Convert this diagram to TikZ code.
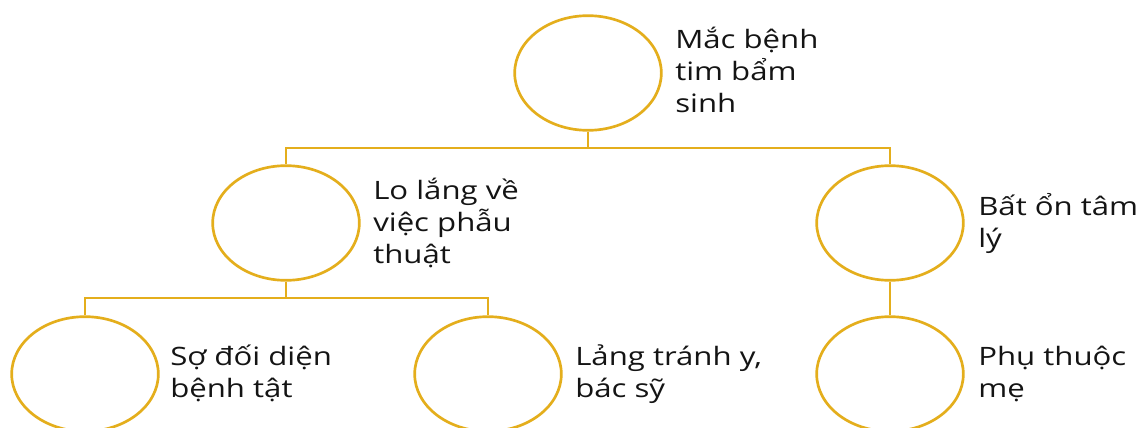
\documentclass[tikz,border=0pt]{standalone}
\usepackage{fontspec}
\setmainfont{Open Sans}[FakeStretch=1.23]
\usetikzlibrary{shapes.geometric}
\definecolor{gold}{RGB}{228,174,28}
\definecolor{ink}{RGB}{20,20,20}
\tikzset{
  bubble/.style={ellipse, draw=gold, line width=2pt, minimum width=110pt, minimum height=86pt, inner sep=0pt},
  link/.style={draw=gold, line width=2pt},
  caption/.style={anchor=base west, align=left, inner sep=0pt, text=ink,
    font=\fontsize{19}{24}\selectfont}
}
\begin{document}
\begin{tikzpicture}[x=0.75pt,y=-0.75pt]
\useasboundingbox (0,0) rectangle (1145,428);
\fill[white] (0,0) rectangle (1145,428);

% circles
\node[bubble] (root)  at (588,73)  {};
\node[bubble] (worry) at (286,223) {};
\node[bubble] (mind)  at (890,223) {};
\node[bubble] (fear)  at (85,374)  {};
\node[bubble] (avoid) at (488,374) {};
\node[bubble] (dep)   at (890,374) {};

% labels beside the circles (anchored at the last line's baseline)
\node[caption] (troot)  at (675,113) {Mắc bệnh\\tim bẩm\\sinh};
\node[caption] (tworry) at (373,263) {Lo lắng về\\việc phẫu\\thuật};
\node[caption] (tmind)  at (978,247) {Bất ổn tâm\\lý};
\node[caption] (tfear)  at (170,397) {Sợ đối diện\\bệnh tật};
\node[caption] (tavoid) at (575,397) {Lảng tránh y,\\bác sỹ};
\node[caption] (tdep)   at (978,397) {Phụ thuộc\\mẹ};

% connectors
\coordinate (j1) at (588,148);
\coordinate (j2) at (286,298);
\draw[link] (root.south) -- (j1) -| (worry.north);
\draw[link] (j1) -| (mind.north);
\draw[link] (worry.south) -- (j2) -| (fear.north);
\draw[link] (j2) -| (avoid.north);
\draw[link] (mind.south) -- (dep.north);
\end{tikzpicture}
\end{document}
